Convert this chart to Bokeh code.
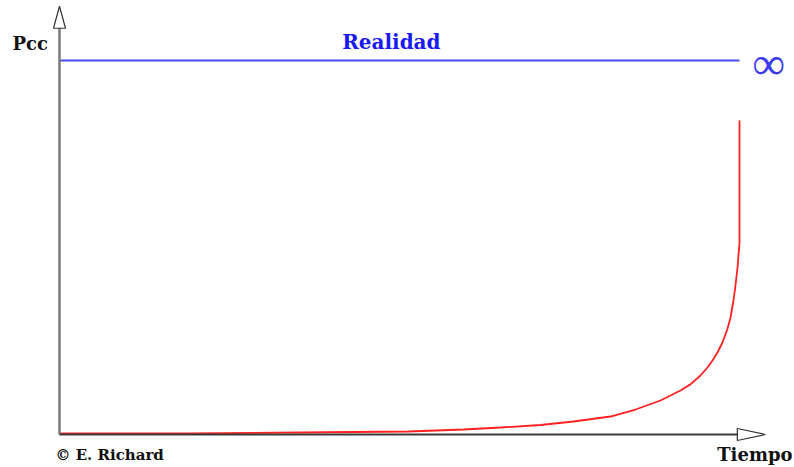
from bokeh.plotting import figure
from bokeh.models import Range1d, Label
from bokeh.embed import file_html
from bokeh.resources import INLINE

# Data (normalised time 0..1, Pcc with 1 = "Realidad" level)
tiempo = [0.0, 0.1926, 0.3544, 0.5132, 0.5941, 0.6485, 0.7074, 0.7559, 0.8103, 0.8471,
          0.8838, 0.9132, 0.9279, 0.9426, 0.9529, 0.9603, 0.9676, 0.9750, 0.9824,
          0.9868, 0.9912, 0.9941, 0.9971, 0.9985, 1.0, 1.0]
pcc = [0.0027, 0.0027, 0.0053, 0.0080, 0.0134, 0.0187, 0.0254, 0.0348, 0.0481, 0.0668,
       0.0909, 0.1176, 0.1340, 0.1578, 0.1792, 0.1980, 0.2193, 0.2460, 0.2834,
       0.3128, 0.3583, 0.3984, 0.4465, 0.4786, 0.5107, 0.8396]
realidad_x = [0.0, 1.0]
realidad_y = [1.0, 1.0]

X_AXIS_END = 1.038
Y_AXIS_END = 1.145

W, H = 794, 467
x0, x1 = -0.08676, 1.08088
y0, y1 = -0.08824, 1.16043
pxx = W / (x1 - x0)
pxy = H / (y1 - y0)

p = figure(width=W, height=H, output_backend="svg", toolbar_location=None,
           x_range=Range1d(x0, x1), y_range=Range1d(y0, y1),
           min_border=0, min_border_left=0, min_border_right=0,
           min_border_top=0, min_border_bottom=0)
p.axis.visible = False
p.grid.visible = False
p.outline_line_color = None
p.background_fill_color = "white"

# Red curve
p.line(tiempo, pcc, line_color="#ff2020", line_width=1.8)

# Realidad line
p.line(realidad_x, realidad_y, line_color="#4a4af5", line_width=2)

# axes
p.line([0, 0], [0, Y_AXIS_END - 20 / pxy], line_color="#7a7a7a", line_width=2.5)
p.line([0, X_AXIS_END - 26 / pxx], [0, 0], line_color="#3a3a3a", line_width=2)

# arrowheads
ah_len_x, ah_half_x = 28 / pxx, 6 / pxy
p.patch([X_AXIS_END - ah_len_x, X_AXIS_END, X_AXIS_END - ah_len_x],
        [ah_half_x, 0, -ah_half_x], fill_color="white", line_color="#333333", line_width=1.2)
ah_len_y, ah_half_y = 22 / pxy, 6 / pxx
p.patch([-ah_half_y, 0, ah_half_y],
        [Y_AXIS_END - ah_len_y, Y_AXIS_END, Y_AXIS_END - ah_len_y],
        fill_color="white", line_color="#333333", line_width=1.2)

font = "DejaVu Serif"
p.add_layout(Label(x=-0.069, y=1.046, text="Pcc", text_font=font, text_font_style="bold",
                   text_font_size="18px", text_color="#111111", text_baseline="alphabetic"))
p.add_layout(Label(x=0.488, y=1.049, text="Realidad", text_font=font, text_font_style="bold",
                   text_font_size="20px", text_color="#1a1af0", text_align="center",
                   text_baseline="alphabetic"))
p.add_layout(Label(x=1.043, y=0.992, text="\u221e", text_font="Liberation Serif",
                   text_font_size="46px", text_color="#3a3af0", text_align="center",
                   text_baseline="middle"))
p.add_layout(Label(x=-0.006, y=-0.0535, text="\u00a9 E. Richard", text_font=font,
                   text_font_style="bold", text_font_size="15px", text_color="#111111",
                   text_baseline="alphabetic"))
p.add_layout(Label(x=1.078, y=-0.0535, text="Tiempo", text_font=font, text_font_style="bold",
                   text_font_size="18px", text_color="#111111", text_align="right",
                   text_baseline="alphabetic"))

open("out.html", "w").write(file_html(p, INLINE))
